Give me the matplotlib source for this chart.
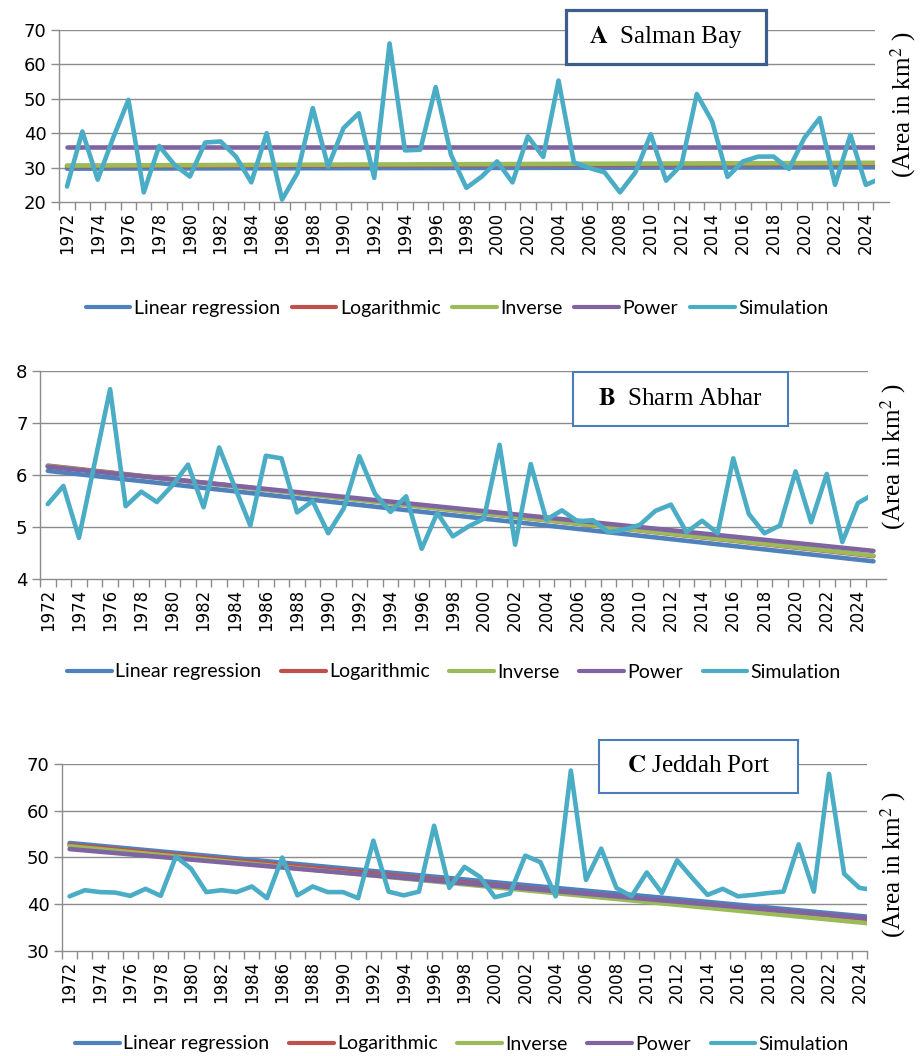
import matplotlib
matplotlib.use("Agg")
import matplotlib.pyplot as plt
from matplotlib.patches import Rectangle

plt.rcParams['mathtext.fontset'] = 'stix'

# categories
years = list(range(1972, 2026))
trend_years = [1972, 2025]
series_names = ["Linear regression", "Logarithmic", "Inverse", "Power", "Simulation"]
colors = ["#4F81BD", "#C0504D", "#9BBB59", "#8064A2", "#4BACC6"]

# A Salman Bay
salman_sim = [24.5, 40.5, 26.5, 38.6, 49.7, 22.8, 36.3, 30.8, 27.4, 37.3,
              37.6, 33.2, 25.7, 40.0, 20.7, 28.4, 47.3, 30.3, 41.5, 45.8,
              27.0, 66.1, 35.0, 35.2, 53.4, 33.7, 24.1, 27.4, 31.8, 25.7,
              39.1, 33.1, 55.3, 31.5, 29.9, 28.6, 22.8, 28.6, 39.7, 26.2,
              30.8, 51.4, 43.4, 27.3, 31.8, 33.2, 33.2, 29.6, 38.6, 44.4,
              25.0, 39.5, 25.0, 26.9]
salman_linear = [29.7, 30.1]
salman_log = [30.4, 31.1]
salman_inverse = [30.6, 31.4]
salman_power = [36.0, 36.0]

# B Sharm Abhar
abhar_sim = [5.44, 5.79, 4.79, 6.22, 7.65, 5.40, 5.68, 5.48, 5.80, 6.20,
             5.38, 6.53, 5.77, 5.03, 6.37, 6.32, 5.28, 5.50, 4.88, 5.36,
             6.36, 5.64, 5.29, 5.59, 4.58, 5.27, 4.82, 5.01, 5.16, 6.58,
             4.66, 6.21, 5.14, 5.32, 5.11, 5.13, 4.90, 4.95, 5.04, 5.31,
             5.43, 4.90, 5.12, 4.88, 6.32, 5.25, 4.88, 5.03, 6.07, 5.09,
             6.02, 4.71, 5.46, 5.63]
abhar_linear = [6.08, 4.34]
abhar_log = [6.18, 4.44]
abhar_inverse = [6.17, 4.45]
abhar_power = [6.16, 4.54]

# C Jeddah Port
jeddah_sim = [41.7, 43.0, 42.6, 42.5, 41.8, 43.3, 41.8, 50.2, 47.6, 42.6,
              43.0, 42.6, 43.8, 41.3, 50.0, 41.9, 43.8, 42.6, 42.6, 41.3,
              53.6, 42.7, 41.9, 42.7, 56.8, 43.5, 48.0, 45.9, 41.5, 42.3,
              50.4, 49.0, 41.7, 68.6, 45.2, 51.9, 43.5, 41.7, 46.8, 42.4,
              49.4, 45.6, 42.0, 43.3, 41.7, 42.0, 42.4, 42.7, 52.8, 42.7,
              67.9, 46.5, 43.5, 43.0]
jeddah_linear = [53.1, 37.2]
jeddah_log = [52.7, 36.4]
jeddah_inverse = [52.4, 35.8]
jeddah_power = [51.8, 36.9]

W, H = 922, 1056
fig = plt.figure(figsize=(W / 100, H / 100), dpi=100)
GRID = "#8C8C8C"


def px_rect(x0, y0, x1, y1):
    return [x0 / W, 1 - y1 / H, (x1 - x0) / W, (y1 - y0) / H]


def draw_panel(rect, sim, trends, ylim, ystep, xlim, legend_xy, colspace, box,
               box_text, box_ec, box_lw, label_xy, trend_clip=True, axis_end=None):
    ax = fig.add_axes(px_rect(*rect))
    ticks = []
    v = ylim[0]
    while v <= ylim[1] + 1e-9:
        ticks.append(v)
        v += ystep
    for t in ticks[1:]:
        ax.axhline(t, color=GRID, lw=1.0, zorder=0)
    lines = []
    for vals, name, c in zip(trends, series_names[:4], colors[:4]):
        ln, = ax.plot(trend_years, vals, color=c, lw=3.3, label=name,
                      solid_capstyle="round", clip_on=trend_clip)
        lines.append(ln)
    ln, = ax.plot(years, sim, color=colors[4], lw=3.3, label=series_names[4],
                  solid_capstyle="round")
    lines.append(ln)
    ax.set_xlim(*xlim)
    ax.set_ylim(*ylim)
    ax.set_yticks(ticks)
    ax.set_yticklabels([f"{t:g}" for t in ticks])
    ax.set_xticks(list(range(1972, 2025, 2)))
    ax.set_xticklabels([str(y) for y in range(1972, 2025, 2)], rotation=90)
    ax.set_xticks([y + 0.5 for y in range(1971, 2025)], minor=True)
    ax.tick_params(axis="x", which="major", length=0, pad=7, labelsize=12)
    ax.tick_params(axis="x", which="minor", length=6, color=GRID, width=1)
    ax.tick_params(axis="y", length=6, color=GRID, width=1, labelsize=13, pad=3)
    for s in ["top", "right"]:
        ax.spines[s].set_visible(False)
    for s in ["left", "bottom"]:
        ax.spines[s].set_color(GRID)
        ax.spines[s].set_linewidth(1.0)
    if axis_end is not None:
        ax.spines["bottom"].set_bounds(xlim[0], axis_end)
    leg = ax.legend(handles=lines, loc="center", ncol=5, frameon=False,
                    bbox_to_anchor=(legend_xy[0] / W, 1 - legend_xy[1] / H),
                    bbox_transform=fig.transFigure,
                    prop={"family": "Lato", "size": 14},
                    handlelength=2.3, handletextpad=0.18, columnspacing=colspace,
                    borderaxespad=0, borderpad=0)
    for h in leg.legend_handles:
        h.set_linewidth(3.0)
    x0, y0, x1, y1 = box
    fig.patches.append(Rectangle((x0 / W, 1 - y1 / H), (x1 - x0) / W, (y1 - y0) / H,
                                 transform=fig.transFigure, fc="white", ec=box_ec,
                                 lw=box_lw, zorder=5))
    fig.text((x0 + x1) / 2 / W, 1 - (y0 + y1) / 2 / H, box_text, ha="center",
             va="center", family="Liberation Serif", fontsize=18, zorder=6)
    fig.text(label_xy[0] / W, 1 - label_xy[1] / H, r"(Area in km$^{2}$ )",
             rotation=90, ha="center", va="center", family="Liberation Serif",
             fontsize=18)
    return ax


draw_panel((59, 30, 875, 202), salman_sim,
           [salman_linear, salman_log, salman_inverse, salman_power],
           (20, 70), 10, (1971.48, 2024.6), (457, 308), 0.6,
           (566, 10, 766, 64), r"$\mathbf{A}$  Salman Bay", "#3B5E8C", 2.3, (903, 105),
           axis_end=2025.5)

draw_panel((40, 371, 868, 579), abhar_sim,
           [abhar_linear, abhar_log, abhar_inverse, abhar_power],
           (4, 8), 1, (1971.5, 2024.65), (454, 672), 1.0,
           (573, 372, 788, 426), r"$\mathbf{B}$  Sharm Abhar", "#4A7EBB", 1.5, (893, 457),
           trend_clip=False, axis_end=2025.8)

draw_panel((62, 764, 867, 951), jeddah_sim,
           [jeddah_linear, jeddah_log, jeddah_inverse, jeddah_power],
           (30, 70), 10, (1971.54, 2024.2), (462, 1044), 1.0,
           (599, 740, 798, 793), r"$\mathbf{C}$ Jeddah Port", "#4A7EBB", 1.5, (893, 865))

fig.savefig("out.png", dpi=100)
